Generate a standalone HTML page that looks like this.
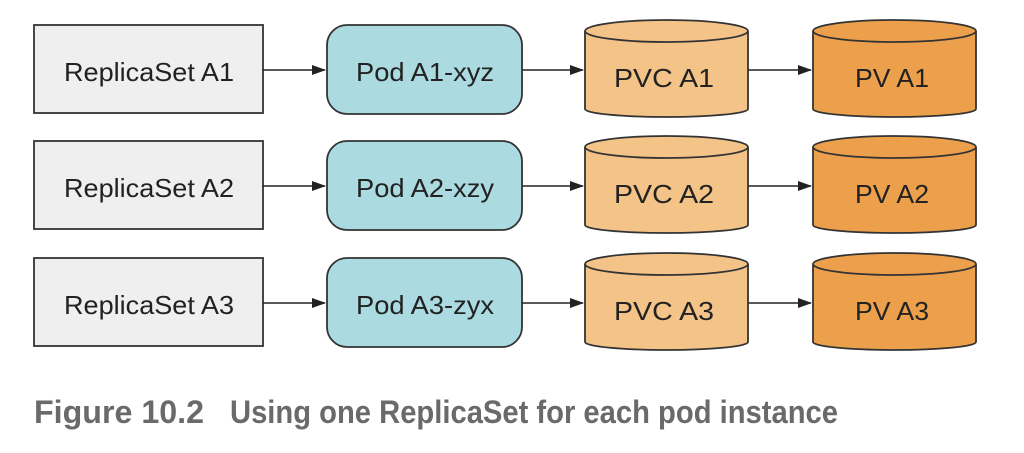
<!DOCTYPE html>
<html><head><meta charset="utf-8"><style>
html,body{margin:0;padding:0;background:#fff;}
svg{display:block;}
text{font-family:"Liberation Sans",Arial,sans-serif;fill:#222;}
</style></head><body>
<svg width="1024" height="453" viewBox="0 0 1024 453" xmlns="http://www.w3.org/2000/svg">
<defs>
<marker id="ah" markerWidth="14" markerHeight="10" refX="13" refY="5" orient="auto" markerUnits="userSpaceOnUse">
<path d="M0,0 L14,5 L0,10 Z" fill="#222"/>
</marker>
<g id="row">
<rect x="34" y="25" width="229" height="88" fill="#efefef" stroke="#333" stroke-width="1.8"/>
<rect x="327" y="25" width="195" height="89" rx="20" ry="20" fill="#abdbe1" stroke="#333" stroke-width="1.8"/>
<line x1="263" y1="70" x2="325" y2="70" stroke="#222" stroke-width="1.4" marker-end="url(#ah)"/>
<line x1="522" y1="70" x2="583" y2="70" stroke="#222" stroke-width="1.4" marker-end="url(#ah)"/>
<line x1="748" y1="70" x2="811" y2="70" stroke="#222" stroke-width="1.4" marker-end="url(#ah)"/>
<path d="M585,31 L585,109 A81.5,8 0 0 0 748,109 L748,31" fill="#f4c388" stroke="#333" stroke-width="1.8"/>
<ellipse cx="666.5" cy="31" rx="81.5" ry="11" fill="#f4c388" stroke="#333" stroke-width="1.8"/>
<path d="M813,31 L813,109 A81.5,8 0 0 0 976,109 L976,31" fill="#eda04c" stroke="#333" stroke-width="1.8"/>
<ellipse cx="894.5" cy="31" rx="81.5" ry="11" fill="#eda04c" stroke="#333" stroke-width="1.8"/>
</g>
</defs>
<use href="#row"/>
<use href="#row" y="116"/>
<use href="#row" y="233"/>

<g font-size="26">
<text x="64" y="81" textLength="170" lengthAdjust="spacingAndGlyphs">ReplicaSet A1</text>
<text x="356" y="81" textLength="138" lengthAdjust="spacingAndGlyphs">Pod A1-xyz</text>
<text x="614" y="87" textLength="100" lengthAdjust="spacingAndGlyphs">PVC A1</text>
<text x="855" y="87" textLength="74" lengthAdjust="spacingAndGlyphs">PV A1</text>

<text x="64" y="197" textLength="170" lengthAdjust="spacingAndGlyphs">ReplicaSet A2</text>
<text x="356" y="197" textLength="138" lengthAdjust="spacingAndGlyphs">Pod A2-xzy</text>
<text x="614" y="203" textLength="100" lengthAdjust="spacingAndGlyphs">PVC A2</text>
<text x="855" y="203" textLength="74" lengthAdjust="spacingAndGlyphs">PV A2</text>

<text x="64" y="314" textLength="170" lengthAdjust="spacingAndGlyphs">ReplicaSet A3</text>
<text x="356" y="314" textLength="138" lengthAdjust="spacingAndGlyphs">Pod A3-zyx</text>
<text x="614" y="320" textLength="100" lengthAdjust="spacingAndGlyphs">PVC A3</text>
<text x="855" y="320" textLength="74" lengthAdjust="spacingAndGlyphs">PV A3</text>
</g>

<text x="34" y="423" font-size="32" font-weight="bold" style="fill:#6a6a6a;font-family:'Liberation Sans Narrow','Liberation Sans',sans-serif" textLength="170" lengthAdjust="spacingAndGlyphs">Figure 10.2</text>
<text x="230" y="423" font-size="32" font-weight="bold" style="fill:#6a6a6a;font-family:'Liberation Sans Narrow','Liberation Sans',sans-serif" textLength="608" lengthAdjust="spacingAndGlyphs">Using one ReplicaSet for each pod instance</text>
</svg>
</body></html>
